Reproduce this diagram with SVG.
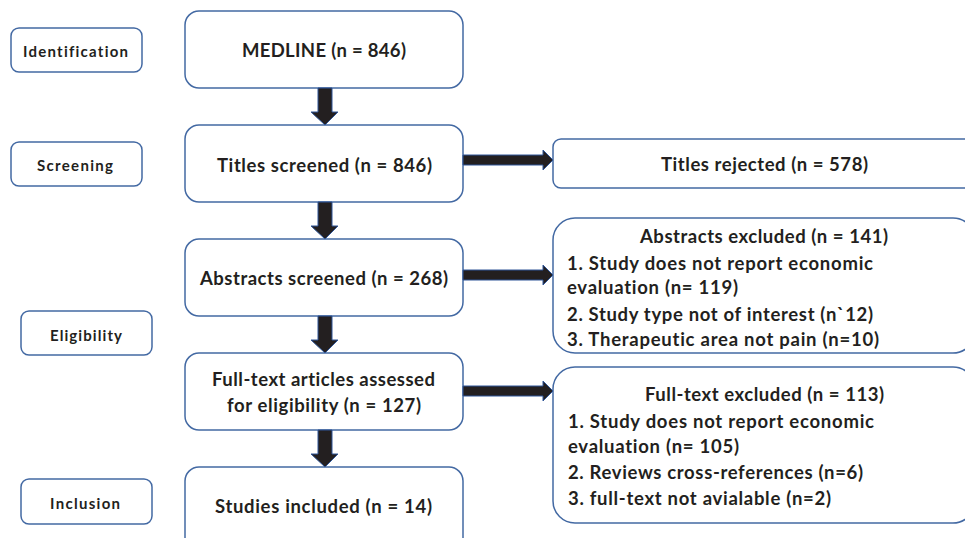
<svg xmlns="http://www.w3.org/2000/svg" width="965" height="538" viewBox="0 0 965 538">
<style>
.box{fill:#ffffff;stroke:#4369a3;stroke-width:1.5}
.t{font-family:Lato,"Liberation Sans",sans-serif;font-weight:700;fill:#231f20;font-size:18.5px;font-variant-ligatures:none}
.s{font-family:Lato,"Liberation Sans",sans-serif;font-weight:700;fill:#231f20;font-size:15px;font-variant-ligatures:none}
.arr{fill:#231f20;stroke:#2f5597;stroke-width:1}
</style>
<rect width="965" height="538" fill="#ffffff"/>
<g id="identification"><rect class="box" x="11" y="28" width="131" height="44" rx="8"/><text class="s" x="23" y="57" textLength="105" lengthAdjust="spacing">Identification</text></g>
<g id="screening"><rect class="box" x="11" y="142" width="131" height="44" rx="8"/><text class="s" x="37" y="170.5" textLength="76" lengthAdjust="spacing">Screening</text></g>
<g id="eligibility"><rect class="box" x="21" y="311" width="131" height="44" rx="8"/><text class="s" x="50" y="340.5" textLength="72" lengthAdjust="spacing">Eligibility</text></g>
<g id="inclusion"><rect class="box" x="21" y="479" width="131" height="45" rx="8"/><text class="s" x="50" y="509" textLength="70" lengthAdjust="spacing">Inclusion</text></g>

<g id="medline"><rect class="box" x="185" y="11" width="278" height="77" rx="14"/><text class="t" x="242" y="57" textLength="164" lengthAdjust="spacing">MEDLINE (n = 846)</text></g>
<g id="titles-screened"><rect class="box" x="185" y="125" width="278" height="77" rx="14"/><text class="t" x="217" y="171.5" textLength="215" lengthAdjust="spacing">Titles screened (n = 846)</text></g>
<g id="abstracts-screened"><rect class="box" x="185" y="239" width="278" height="77" rx="14"/><text class="t" x="200" y="285" textLength="248" lengthAdjust="spacing">Abstracts screened (n = 268)</text></g>
<g id="fulltext-assessed"><rect class="box" x="185" y="353" width="278" height="77" rx="14"/><text class="t" x="212" y="386" textLength="223" lengthAdjust="spacing">Full-text articles assessed</text><text class="t" x="227" y="411.5" textLength="194" lengthAdjust="spacing">for eligibility (n = 127)</text></g>
<g id="studies-included"><rect class="box" x="185" y="467" width="278" height="85" rx="14"/><text class="t" x="215" y="512.5" textLength="217" lengthAdjust="spacing">Studies included (n = 14)</text></g>

<g id="titles-rejected"><rect class="box" x="553" y="139" width="422" height="49" rx="8"/><text class="t" x="661" y="171" textLength="207" lengthAdjust="spacing">Titles rejected (n = 578)</text></g>
<g id="abstracts-excluded"><rect class="box" x="553" y="218" width="422" height="135" rx="22"/>
<text class="t" x="640" y="242.5" textLength="248" lengthAdjust="spacing">Abstracts excluded (n = 141)</text>
<text class="t" x="567" y="270" textLength="306" lengthAdjust="spacing">1. Study does not report economic</text>
<text class="t" x="567" y="294" textLength="171" lengthAdjust="spacing">evaluation (n= 119)</text>
<text class="t" x="567" y="320.5" textLength="306" lengthAdjust="spacing">2. Study type not of interest (n`12)</text>
<text class="t" x="567" y="346" textLength="312" lengthAdjust="spacing">3. Therapeutic area not pain (n=10)</text></g>
<g id="fulltext-excluded"><rect class="box" x="553" y="367" width="422" height="156" rx="22"/>
<text class="t" x="645" y="401" textLength="239" lengthAdjust="spacing">Full-text excluded (n = 113)</text>
<text class="t" x="568" y="427.5" textLength="306" lengthAdjust="spacing">1. Study does not report economic</text>
<text class="t" x="568" y="452.5" textLength="171" lengthAdjust="spacing">evaluation (n= 105)</text>
<text class="t" x="568" y="479" textLength="295" lengthAdjust="spacing">2. Reviews cross-references (n=6)</text>
<text class="t" x="568" y="505" textLength="263" lengthAdjust="spacing">3. full-text not avialable (n=2)</text></g>

<g id="connectors">
<path class="arr" d="M318 88 H332 V112 H338 L325 125 L311 112 H318 Z"/>
<path class="arr" d="M318 202 H332 V226 H338 L325 239 L311 226 H318 Z"/>
<path class="arr" d="M318 316 H332 V340 H338 L325 353 L311 340 H318 Z"/>
<path class="arr" d="M318 430 H332 V454 H338 L325 467 L311 454 H318 Z"/>
<path class="arr" d="M463 155 H543 V150 L553 160 L543 170 V165 H463 Z"/>
<path class="arr" d="M463 270 H543 V265 L553 275 L543 285 V280 H463 Z"/>
<path class="arr" d="M463 386 H543 V381 L553 391 L543 401 V396 H463 Z"/>
</g>
</svg>
